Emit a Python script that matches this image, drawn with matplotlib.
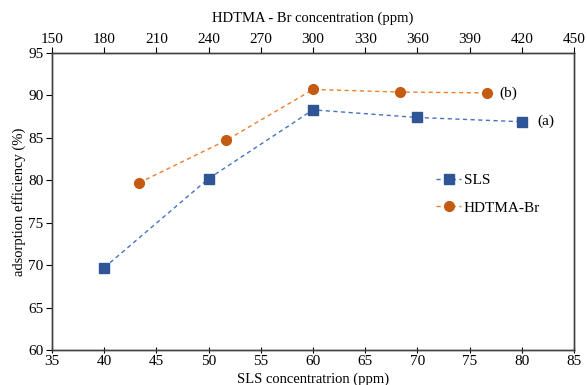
import matplotlib.pyplot as plt
import numpy as np

plt.rcParams['font.family'] = ['Liberation Serif', 'DejaVu Serif']

# data
sls_conc = [40, 50, 60, 70, 80]
sls_eff = [69.7, 80.2, 88.3, 87.4, 86.9]
hdtma_conc = [200, 250, 300, 350, 400]
hdtma_eff = [79.7, 84.7, 90.7, 90.4, 90.3]

bottom_ticks = np.arange(35, 86, 5)
top_ticks = np.arange(150, 451, 30)
y_ticks = np.arange(60, 96, 5)

fig = plt.figure(figsize=(5.87, 3.85), dpi=100)
ax = fig.add_axes([52 / 587, 1 - 350 / 385, 522 / 587, 297 / 385])
ax2 = ax.twiny()

l1, = ax.plot(sls_conc, sls_eff, ls=(0, (3, 2.5)), lw=1, color='#4472C4',
              marker='s', ms=6.5, mfc='#2F5597', mec='#2F5597', label='SLS')
l2, = ax2.plot(hdtma_conc, hdtma_eff, ls=(0, (3, 2.5)), lw=1, color='#ED7D31',
               marker='o', ms=7, mfc='#C55A11', mec='#C55A11', label='HDTMA-Br')

ax.set_xlim(35, 85)
ax.set_ylim(60, 95)
ax2.set_xlim(150, 450)
ax.set_xticks(bottom_ticks)
ax.set_yticks(y_ticks)
ax2.set_xticks(top_ticks)

fs = 11
ax.tick_params(axis='x', direction='inout', length=5, width=0.8, labelsize=fs, pad=1)
ax.tick_params(axis='y', direction='out', length=4, width=0.8, labelsize=fs, pad=2)
ax2.tick_params(axis='x', direction='out', length=4, width=0.8, labelsize=fs, pad=1)
for a in (ax, ax2):
    for s in a.spines.values():
        s.set_linewidth(1.0)
        s.set_color('#404040')

ax.set_xlabel('SLS concentratrion (ppm)', fontsize=10.5, labelpad=3)
ax.set_ylabel('adsorption efficiency (%)', fontsize=10.5, labelpad=2)
ax2.set_xlabel('HDTMA - Br concentration (ppm)', fontsize=10.5, labelpad=8)

ax.text(81.5, sls_eff[-1], '(a)', fontsize=fs, va='center')
ax2.text(407, hdtma_eff[-1], '(b)', fontsize=fs, va='center')

ax.legend(handles=[l1, l2], loc='upper left', bbox_to_anchor=(0.71, 0.64),
          frameon=False, fontsize=fs, handlelength=1.6, handletextpad=0.2,
          labelspacing=0.9)

fig.savefig('out.png', dpi=100)
